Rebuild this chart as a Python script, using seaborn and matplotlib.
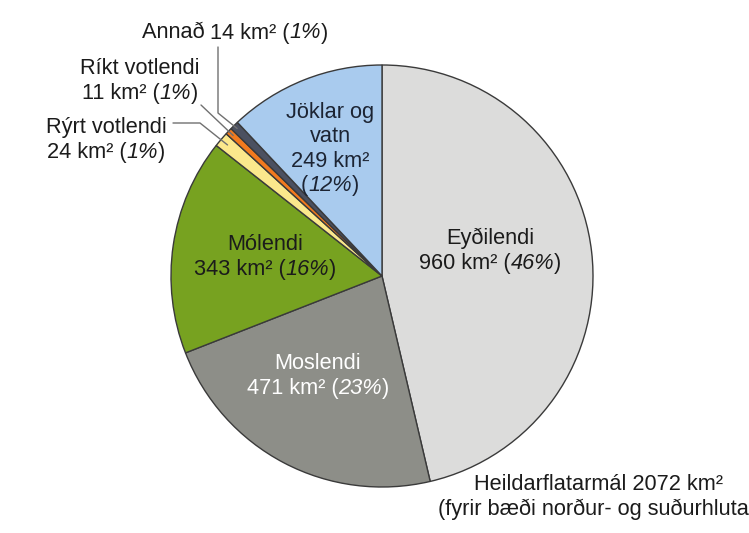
import numpy as np
import seaborn as sns
import matplotlib.pyplot as plt
from matplotlib.offsetbox import TextArea, HPacker, VPacker, AnnotationBbox

# landgerðir, km2
names = ["Eyðilendi", "Moslendi", "Mólendi", "Rýrt votlendi",
         "Ríkt votlendi", "Annað", "Jöklar og vatn"]
areas = [960, 471, 343, 24, 11, 14, 249]
pcts = [46, 23, 16, 1, 1, 1, 12]
colors = ["#dcdcdb", "#8d8e88", "#77a220", "#fbe88c",
          "#f27a1e", "#4b5060", "#a9cbee"]

sns.set_theme(style="white")
plt.rcParams["font.family"] = ["Liberation Sans", "DejaVu Sans"]

W, H = 749, 533
CX, CY, R = 382, 276, 211
fs = 15.7
tc = "#1b1b1b"


def px(x, y):
    # pixel position -> data units (pie radius 1)
    return (x - CX) / R, (CY - y) / R


fig = plt.figure(figsize=(W / 100, H / 100), dpi=100)
ax = fig.add_axes([0, 0, 1, 1])
wedges, _ = ax.pie(areas, colors=colors, startangle=90, counterclock=False,
                   wedgeprops=dict(edgecolor="#3a3a3a", linewidth=1.0))
ax.set_xlim(px(0, 0)[0], px(W, 0)[0])
ax.set_ylim(px(0, H)[1], px(0, 0)[1])
ax.set_aspect("equal", adjustable="box")
ax.axis("off")


def rich(lines, xy, color=tc, sep=3.0):
    # lines = list of rows, each row a list of (text, italic)
    rows = []
    for parts in lines:
        kids = [TextArea(t, textprops=dict(fontsize=fs, color=color,
                                           style="italic" if it else "normal"))
                for t, it in parts]
        rows.append(HPacker(children=kids, align="baseline", pad=0, sep=0))
    box = VPacker(children=rows, align="center", pad=0, sep=sep)
    ab = AnnotationBbox(box, xy, frameon=False, box_alignment=(0.5, 0.5), pad=0)
    ax.add_artist(ab)


def val(i):
    return [(f"{areas[i]} km² (", False), (f"{pcts[i]}%", True), (")", False)]


def edge(i, r=1.0):
    w = wedges[i]
    a = np.deg2rad((w.theta1 + w.theta2) / 2)
    return r * np.cos(a), r * np.sin(a)


rich([[(names[0], False)], val(0)], px(490, 251))
rich([[(names[1], False)], val(1)], px(318, 376), color="white")
rich([[(names[2], False)], val(2)], px(265, 257))
rich([[("Jöklar og", False)], [("vatn", False)], [(f"{areas[6]} km²", False)],
      [("(", False), (f"{pcts[6]}%", True), (")", False)]],
     px(330, 149), color="#1c2433", sep=2.5)

# smáu sneiðarnar með vísilínum
rich([[(f"{names[5]} ", False)] + val(5)], px(235, 33))
rich([[(names[4], False)], val(4)], px(140, 81))
rich([[(names[3], False)], val(3)], px(106, 140))

lc = "#707070"
p0, p1 = px(218, 47), px(218, 113)
e = edge(5, 0.98)
ax.plot([p0[0], p1[0], e[0]], [p0[1], p1[1], e[1]], color=lc, lw=1)
p0 = px(201, 105)
e = edge(4, 0.97)
ax.plot([p0[0], e[0]], [p0[1], e[1]], color=lc, lw=1)
p0, p1 = px(173, 123), px(200, 123)
e = edge(3, 0.96)
ax.plot([p0[0], p1[0], e[0]], [p0[1], p1[1], e[1]], color=lc, lw=1)

ax.text(*px(599, 484), f"Heildarflatarmál {sum(areas)} km²",
        ha="center", va="center", fontsize=fs, color=tc)
ax.text(*px(438, 509), "(fyrir bæði norður- og suðurhluta)",
        ha="left", va="center", fontsize=fs, color=tc)

fig.savefig("out.png", dpi=100, facecolor="white")
